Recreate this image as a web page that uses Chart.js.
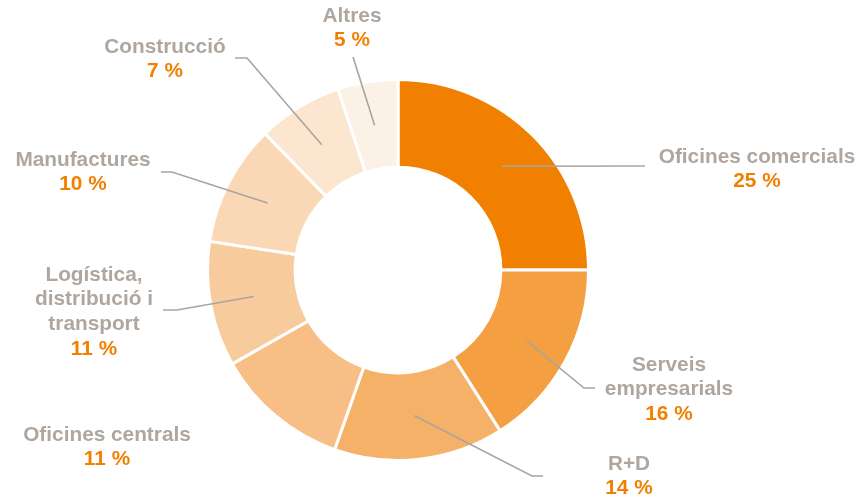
<!DOCTYPE html>
<html>
<head>
<meta charset="utf-8">
<script src="https://cdn.jsdelivr.net/npm/chart.js@4/dist/chart.umd.min.js"></script>
<style>
  html, body { margin: 0; padding: 0; background: #fff; }
  #wrap { width: 859px; height: 499px; }
</style>
</head>
<body>
<div id="wrap"><canvas id="sector-chart" width="859" height="499"></canvas></div>
<script>
// sectors, in clockwise order from 12 o'clock
const sectors = ["Oficines comercials", "Serveis empresarials", "R+D", "Oficines centrals",
                 "Logística, distribució i transport", "Manufactures", "Construcció", "Altres"];
// shares in % (labels show them rounded)
const shares = [25.0, 16.0, 14.4, 11.4, 10.6, 10.3, 7.2, 5.1];
// how the names are broken over lines next to the ring
const labelLines = [
    ["Oficines comercials"],
    ["Serveis", "empresarials"],
    ["R+D"],
    ["Oficines centrals"],
    ["Logística,", "distribució i", "transport"],
    ["Manufactures"],
    ["Construcció"],
    ["Altres"]
];
const sliceColors = ["#f28000", "#f59f43", "#f6b168", "#f7bf85", "#f8cb9c", "#fad8b5", "#fce6d0", "#fcf1e6"];

// where each text block sits, and the leader line (elbow + end), null = no line
const labelSpots = [
    { x: 757, y: 157, elbow: null, end: [645, 166] },
    { x: 669, y: 365, elbow: [584, 388], end: [595, 388] },
    { x: 629, y: 464, elbow: [532, 476], end: [543, 476] },
    { x: 107, y: 435, elbow: null, end: null },
    { x: 94, y: 275, elbow: [177, 310], end: [163, 310] },
    { x: 83, y: 160, elbow: [172, 172], end: [161, 172] },
    { x: 165, y: 47, elbow: [247, 58], end: [235, 58] },
    { x: 352, y: 16, elbow: null, end: [353, 57] }
];

const labelPlugin = {
    id: 'sectorLabels',
    afterDatasetsDraw(chart) {
        const ctx = chart.ctx;
        const arcs = chart.getDatasetMeta(0).data;
        ctx.save();
        // leader lines
        ctx.strokeStyle = "#aaa49e";
        ctx.lineWidth = 1.6;
        arcs.forEach((arc, i) => {
            const spot = labelSpots[i];
            if (!spot.end) return;
            const p = arc.getCenterPoint();
            ctx.beginPath();
            ctx.moveTo(p.x, p.y);
            if (spot.elbow) ctx.lineTo(spot.elbow[0], spot.elbow[1]);
            ctx.lineTo(spot.end[0], spot.end[1]);
            ctx.stroke();
        });
        // texts
        ctx.textAlign = "center";
        ctx.textBaseline = "middle";
        ctx.font = "bold 20.8px 'Liberation Sans', Arial, sans-serif";
        labelLines.forEach((lines, i) => {
            const spot = labelSpots[i];
            let y = spot.y;
            ctx.fillStyle = "#afa79f";
            lines.forEach(line => {
                ctx.fillText(line, spot.x, y);
                y += 24.6;
            });
            ctx.fillStyle = "#f28000";
            ctx.fillText(Math.round(shares[i]) + " %", spot.x, y);
        });
        ctx.restore();
    }
};

const ctx = document.getElementById("sector-chart").getContext('2d');
new Chart(ctx, {
    type: 'doughnut',
    data: {
        labels: sectors,
        datasets: [{
            data: shares,
            backgroundColor: sliceColors,
            borderColor: "#ffffff",
            borderWidth: 3,
            hoverOffset: 0
        }]
    },
    options: {
        responsive: false,
        animation: false,
        cutout: '54%',
        layout: {
            padding: { left: 206, right: 269, top: 78, bottom: 37 }
        },
        plugins: {
            legend: { display: false },
            tooltip: { enabled: false }
        }
    },
    plugins: [labelPlugin]
});
</script>
</body>
</html>
